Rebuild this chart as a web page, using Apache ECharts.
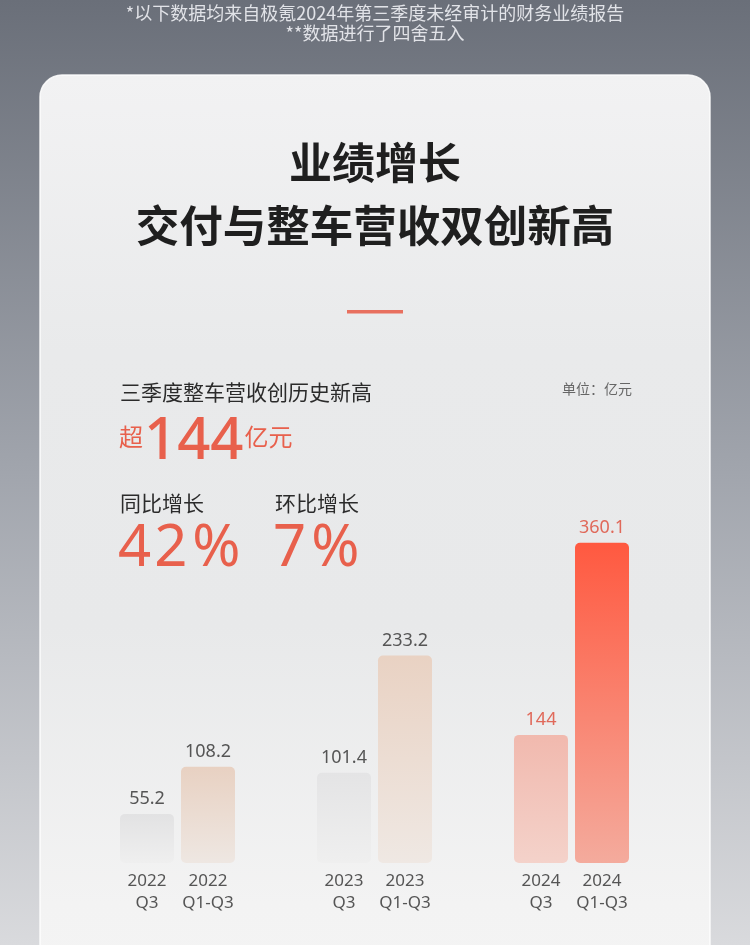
<!DOCTYPE html>
<html>
<head>
<meta charset="utf-8">
<script src="https://cdn.jsdelivr.net/npm/echarts@6/dist/echarts.min.js"></script>
<style>
html,body{margin:0;padding:0;background:#6d727c;}
#main{width:750px;height:945px;}
</style>
</head>
<body>
<div id="main"></div>
<script>
// ---- data ----
const years = ['2022', '2023', '2024'];
const periodLabels = ['Q3', 'Q1-Q3'];
const q3Values = [55.2, 101.4, 144];
const ytdValues = [108.2, 233.2, 360.1];

// ---- styles ----
const CJK = '"Noto Sans CJK SC", "Noto Sans", sans-serif';
const NUM = '"Noto Sans", "Noto Sans CJK SC", sans-serif';
const RED = '#e8604c';
const vgrad = (top, bottom) => ({
  type: 'linear', x: 0, y: 0, x2: 0, y2: 1,
  colorStops: [{ offset: 0, color: top }, { offset: 1, color: bottom }]
});
const q3Colors = [vgrad('#e2e2e3', '#efefef'), vgrad('#e4e4e5', '#efefef'), vgrad('#f1b9ae', '#f4d2ca')];
const ytdColors = [vgrad('#e8d1c2', '#eee7e2'), vgrad('#e9d2c3', '#efe8e3'), vgrad('#ff5940', '#f4ab9d')];
const labelColors = ['#555555', '#555555', '#e0695a'];

const chart = echarts.init(document.getElementById('main'), null, { renderer: 'canvas' });

function makeData(vals, colors) {
  return vals.map((v, i) => ({
    value: v,
    itemStyle: { color: colors[i] },
    label: { color: labelColors[i] }
  }));
}

const bigDigit = { font: '58px ' + NUM, fill: RED, padding: [0, 2, 0, 1] };
const bigPct = { font: '58px ' + NUM, fill: RED, padding: [0, 0, 0, 3] };

const option = {
  backgroundColor: {
    type: 'linear', x: 0, y: 0, x2: 0, y2: 1,
    colorStops: [
      { offset: 0, color: '#6a6f79' },
      { offset: 0.5, color: '#a1a5ad' },
      { offset: 1, color: '#d9dadd' }
    ]
  },
  animation: false,
  graphic: [
    {
      type: 'rect', z: 0,
      shape: { x: 40, y: 75, width: 670, height: 920, r: [22, 22, 0, 0] },
      style: {
        fill: {
          type: 'linear', x: 0, y: 0, x2: 0, y2: 1,
          colorStops: [
            { offset: 0, color: '#f2f2f3' },
            { offset: 0.3, color: '#e9eaeb' },
            { offset: 0.6, color: '#e8e9ea' },
            { offset: 0.9, color: '#f3f3f3' },
            { offset: 1, color: '#f4f4f4' }
          ]
        },
        stroke: 'rgba(255,255,255,0.85)', lineWidth: 1.5
      }
    },
    { type: 'text', z: 100, style: { text: '*以下数据均来自极氪2024年第三季度未经审计的财务业绩报告', x: 375, y: 13, textAlign: 'center', textVerticalAlign: 'middle', font: '18px ' + CJK, fill: 'rgba(236,237,241,0.92)' } },
    { type: 'text', z: 100, style: { text: '**数据进行了四舍五入', x: 375, y: 33, textAlign: 'center', textVerticalAlign: 'middle', font: '18px ' + CJK, fill: 'rgba(236,237,241,0.92)' } },
    { type: 'text', z: 100, style: { text: '业绩增长', x: 375, y: 163, textAlign: 'center', textVerticalAlign: 'middle', font: 'bold 43px ' + CJK, fill: '#1f1f1f' } },
    { type: 'text', z: 100, style: { text: '交付与整车营收双创新高', x: 375, y: 225, textAlign: 'center', textVerticalAlign: 'middle', font: 'bold 43.5px ' + CJK, fill: '#1f1f1f' } },
    { type: 'rect', z: 100, shape: { x: 347, y: 310, width: 56, height: 3.5 }, style: { fill: '#e8705f' } },
    { type: 'text', z: 100, style: { text: '三季度整车营收创历史新高', x: 120, y: 392, textAlign: 'left', textVerticalAlign: 'middle', font: '21px ' + CJK, fill: '#2b2b2b' } },
    { type: 'text', z: 100, style: { text: '单位：亿元', x: 632, y: 389, textAlign: 'right', textVerticalAlign: 'middle', font: '14px ' + CJK, fill: '#666666' } },
    {
      type: 'text', z: 100,
      style: {
        text: '{s|超}{n|144}{u|亿元}', x: 119, y: 462, textAlign: 'left', textVerticalAlign: 'bottom',
        rich: {
          s: { font: '24px ' + CJK, fill: RED, padding: [0, 0, 2, 0] },
          n: { font: '500 58px ' + NUM, fill: RED, padding: [0, 1, -9, 1] },
          u: { font: '24px ' + CJK, fill: RED, padding: [0, 0, 2, 0] }
        }
      }
    },
    { type: 'text', z: 100, style: { text: '同比增长', x: 120, y: 503, textAlign: 'left', textVerticalAlign: 'middle', font: '21px ' + CJK, fill: '#2b2b2b' } },
    { type: 'text', z: 100, style: { text: '环比增长', x: 275, y: 503, textAlign: 'left', textVerticalAlign: 'middle', font: '21px ' + CJK, fill: '#2b2b2b' } },
    { type: 'text', z: 100, style: { text: '{d|4}{d|2}{p|%}', x: 117, y: 549, textAlign: 'left', textVerticalAlign: 'middle', rich: { d: bigDigit, p: bigPct } } },
    { type: 'text', z: 100, style: { text: '{d|7}{p|%}', x: 272, y: 549, textAlign: 'left', textVerticalAlign: 'middle', rich: { d: bigDigit, p: bigPct } } }
  ],
  grid: { left: 79, width: 591, top: 436, bottom: 82, containLabel: false },
  xAxis: {
    type: 'category',
    data: years,
    axisLine: { show: false },
    axisTick: { show: false },
    axisLabel: {
      margin: 7,
      formatter: (v) => `{a|${v}}{b|${v}}\n{a|${periodLabels[0]}}{b|${periodLabels[1]}}`,
      rich: {
        a: { width: 61, align: 'center', fontSize: 17, lineHeight: 22, color: '#555555', fontFamily: NUM },
        b: { width: 61, align: 'center', fontSize: 17, lineHeight: 22, color: '#555555', fontFamily: NUM }
      }
    }
  },
  yAxis: {
    type: 'value', min: 0, max: 480, show: false,
    splitLine: { show: false }
  },
  series: [
    {
      name: periodLabels[0], type: 'bar', z: 5,
      barWidth: 54, barGap: '13%',
      itemStyle: { borderRadius: 5 },
      label: { show: true, position: 'top', distance: 6, fontSize: 18, fontFamily: NUM },
      data: makeData(q3Values, q3Colors)
    },
    {
      name: periodLabels[1], type: 'bar', z: 5,
      barWidth: 54, barGap: '13%',
      itemStyle: { borderRadius: 5 },
      label: { show: true, position: 'top', distance: 6, fontSize: 18, fontFamily: NUM },
      data: makeData(ytdValues, ytdColors)
    }
  ]
};
chart.setOption(option);
</script>
</body>
</html>
